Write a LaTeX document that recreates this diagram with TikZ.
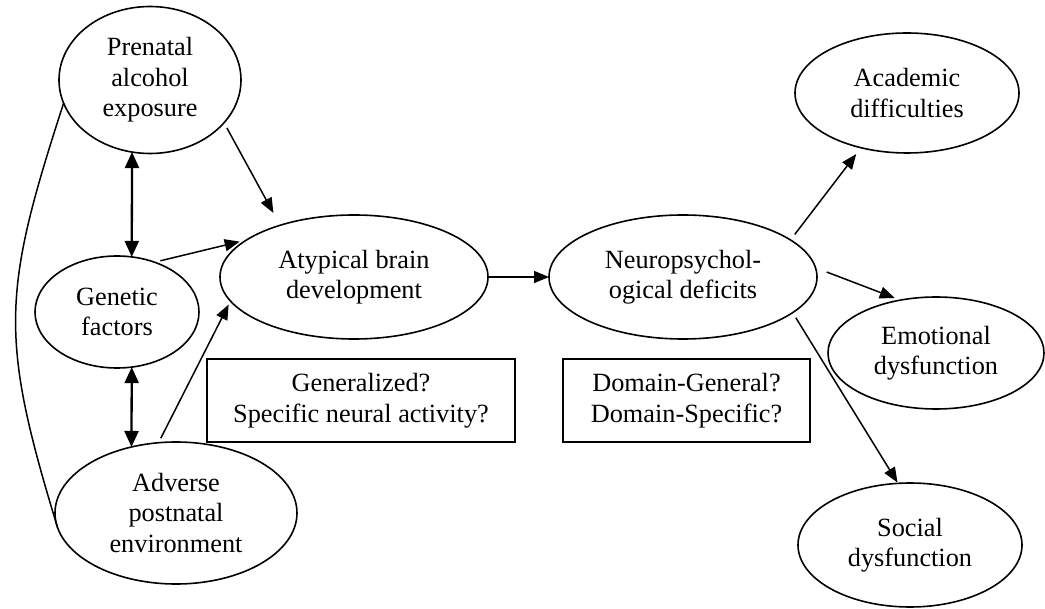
\documentclass[tikz,border=0pt]{standalone}
\usepackage{fontspec}
\setmainfont{Liberation Serif}
\usetikzlibrary{shapes.geometric, arrows.meta}

\begin{document}
\begin{tikzpicture}[
    x=1pt, y=-1pt,
    font=\fontsize{26.3}{30.5}\selectfont,
    oval/.style={ellipse, draw, line width=1.6pt, inner sep=0pt, outer sep=0pt, align=center},
    qbox/.style={rectangle, draw, line width=1.8pt, inner sep=0pt, align=center},
    arrow/.style={-{Triangle[length=15pt, width=12pt]}, line width=1.5pt},
    dblarrow/.style={{Triangle[length=16pt, width=14pt]}-{Triangle[length=16pt, width=14pt]}, line width=2.3pt},
    link/.style={line width=1.5pt}
]
    \useasboundingbox (0,0) rectangle (1045,609);

    \node[oval, minimum width=182pt, minimum height=147pt] (pae) at (150,80) {Prenatal\\ alcohol\\ exposure};
    \node[oval, minimum width=164pt, minimum height=112pt] (gen) at (117,312) {Genetic\\ factors};
    \node[oval, minimum width=242pt, minimum height=142pt] (adv) at (176,513) {Adverse\\ postnatal\\ environment};
    \node[oval, minimum width=268pt, minimum height=124pt] (atb) at (354,277) {Atypical brain\\ development};
    \node[oval, minimum width=268pt, minimum height=124pt] (npd) at (683,277) {Neuropsychol-\\ ogical deficits};
    \node[oval, minimum width=224pt, minimum height=120pt] (acd) at (907,93) {Academic\\ difficulties};
    \node[oval, minimum width=216pt, minimum height=112pt] (emo) at (936,353) {Emotional\\ dysfunction};
    \node[oval, minimum width=224pt, minimum height=124pt] (soc) at (910,545) {Social\\ dysfunction};

    \node[qbox, minimum width=308pt, minimum height=83pt] (gsq) at (361,400.5) {Generalized?\\ Specific neural activity?};
    \node[qbox, minimum width=247pt, minimum height=83pt] (dsq) at (686.5,400.5) {Domain-General?\\ Domain-Specific?};

    \draw[dblarrow] (pae.-104) -- (gen.75);
    \draw[dblarrow] (gen.-75) -- (adv.124);
    \draw[link] (pae.195) to[out=-108, in=107, looseness=1.2] (adv.187);

    \draw[arrow, shorten <=6pt, shorten >=14pt] (pae.-30) -- (atb.145);
    \draw[arrow, shorten <=6pt, shorten >=7pt] (gen.53) -- (atb.161);
    \draw[arrow, shorten <=5pt, shorten >=4pt] (adv.104) -- (atb.191);
    \draw[arrow] (atb) -- (npd);
    \draw[arrow, shorten <=7pt, shorten >=8pt] (npd.19) -- (acd.230);
    \draw[arrow, shorten <=12pt, shorten >=6pt] (npd.4) -- (emo.124);
    \draw[arrow, shorten <=6pt, shorten >=1pt] (npd.-18) -- (soc.101);
\end{tikzpicture}
\end{document}
